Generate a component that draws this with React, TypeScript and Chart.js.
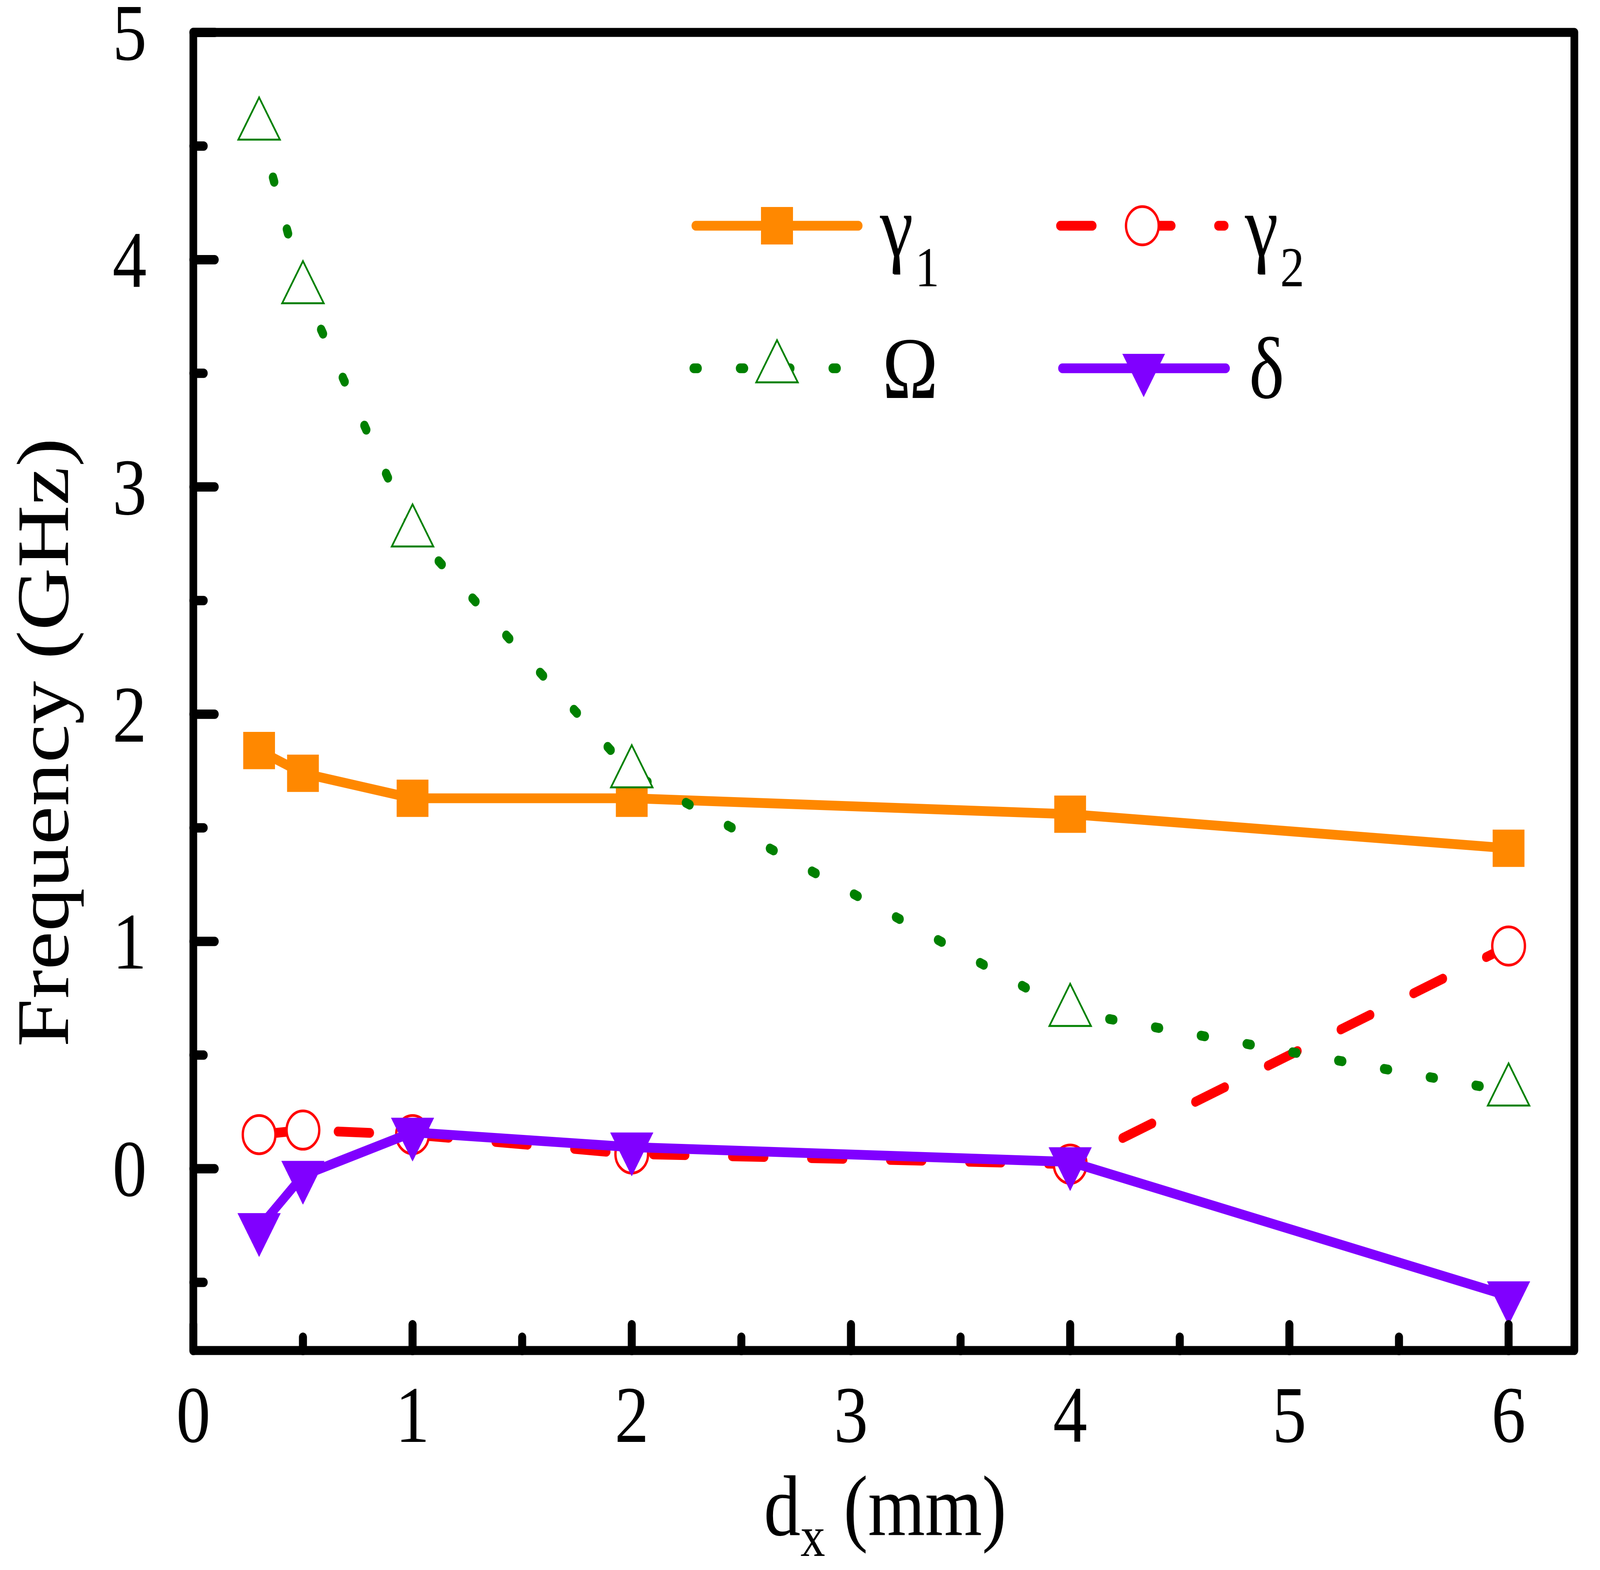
import React, { useEffect, useRef } from "react";
import { Chart, registerables } from "chart.js";

Chart.register(...registerables);

// values
const dx = [0.3, 0.5, 1, 2, 4, 6];
const gamma1 = [1.84, 1.74, 1.63, 1.63, 1.56, 1.41];
const gamma2 = [0.15, 0.17, 0.15, 0.065, 0.02, 0.98];
const omega = [4.59, 3.87, 2.8, 1.74, 0.69, 0.34];
const delta = [-0.26, -0.03, 0.16, 0.095, 0.03, -0.56];

const xMajorTicks = [0, 1, 2, 3, 4, 5, 6];
const xMinorTicks = [0.5, 1.5, 2.5, 3.5, 4.5, 5.5];
const yMajorTicks = [0, 1, 2, 3, 4, 5];
const yMinorTicks = [-0.5, 0.5, 1.5, 2.5, 3.5, 4.5];

// drawing is laid out on a 4800x4020 surface, then fitted to the viewport
const W = 4800;
const H = 4020;
const ORANGE = "#FF8800";
const RED = "#FF0000";
const GREEN = "#008000";
const PURPLE = "#8000FF";
const SERIF = "'Liberation Serif', 'Times New Roman', serif";

const pts = (ys: number[]) => dx.map((x, i) => ({ x, y: ys[i] }));

function triangle(ctx: CanvasRenderingContext2D, cx: number, cy: number, r: number, down: boolean) {
  const s = down ? -1 : 1;
  const h = Math.sin(Math.PI / 3) * r;
  ctx.beginPath();
  ctx.moveTo(cx, cy - s * r);
  ctx.lineTo(cx + h, cy + s * r * 0.5);
  ctx.lineTo(cx - h, cy + s * r * 0.5);
  ctx.closePath();
}

// ticks point inward, frame drawn over the data
const framePlugin = {
  id: "frame",
  afterDatasetsDraw(chart: any) {
    const { ctx, chartArea: a, scales } = chart;
    const xs = scales.x;
    const ys = scales.y;
    ctx.save();
    ctx.strokeStyle = "#000";
    ctx.lineCap = "round";
    ctx.lineWidth = 24;
    const seg = (x1: number, y1: number, x2: number, y2: number) => {
      ctx.beginPath();
      ctx.moveTo(x1, y1);
      ctx.lineTo(x2, y2);
      ctx.stroke();
    };
    yMajorTicks.forEach((v) => {
      const p = ys.getPixelForValue(v);
      seg(a.left, p, a.left + 64, p);
    });
    yMinorTicks.forEach((v) => {
      const p = ys.getPixelForValue(v);
      seg(a.left, p, a.left + 31, p);
    });
    xMajorTicks.forEach((v) => {
      const p = xs.getPixelForValue(v);
      seg(p, a.bottom, p, a.bottom - 66);
    });
    xMinorTicks.forEach((v) => {
      const p = xs.getPixelForValue(v);
      seg(p, a.bottom, p, a.bottom - 34);
    });
    ctx.lineWidth = 23;
    ctx.lineJoin = "round";
    ctx.strokeRect(a.left, a.top, a.right - a.left, a.bottom - a.top);
    ctx.restore();
  },
  afterDraw(chart: any) {
    const { ctx, chartArea: a } = chart;
    ctx.save();
    ctx.fillStyle = "#000";

    // x title: d_x (mm)
    const big = `220px ${SERIF}`;
    const sub = `148px ${SERIF}`;
    ctx.font = big;
    const wd = ctx.measureText("d").width;
    const wr = ctx.measureText(" (mm)").width;
    ctx.font = sub;
    const wx = ctx.measureText("x").width;
    const x0 = (a.left + a.right) / 2 - (wd + wx + wr) / 2 + 4;
    const base = 3931;
    ctx.textBaseline = "alphabetic";
    ctx.textAlign = "left";
    ctx.font = big;
    ctx.fillText("d", x0, base);
    ctx.font = sub;
    ctx.fillText("x", x0 + wd, base + 53);
    ctx.font = big;
    ctx.fillText(" (mm)", x0 + wd + wx, base);

    // y title
    ctx.save();
    ctx.translate(204, 1901);
    ctx.rotate(-Math.PI / 2);
    ctx.textAlign = "center";
    ctx.font = `222px ${SERIF}`;
    ctx.fillText("Frequency (GHz)", 0, 0);
    ctx.restore();

    // legend
    const row1 = 578;
    const row2 = 943;
    const line = (x1: number, x2: number, y: number, color: string, dash: number[]) => {
      ctx.save();
      ctx.strokeStyle = color;
      ctx.lineWidth = 25;
      ctx.lineCap = "round";
      ctx.setLineDash(dash);
      ctx.beginPath();
      ctx.moveTo(x1, y);
      ctx.lineTo(x2, y);
      ctx.stroke();
      ctx.restore();
    };
    line(2087, 2575, row1, ORANGE, []);
    ctx.fillStyle = ORANGE;
    ctx.fillRect(2331 - 48, row1 - 48, 96, 96);

    line(3181, 3673, row1, RED, [96, 141]);
    ctx.beginPath();
    ctx.arc(3427, row1, 49, 0, Math.PI * 2);
    ctx.fillStyle = "#fff";
    ctx.fill();
    ctx.lineWidth = 7;
    ctx.strokeStyle = RED;
    ctx.stroke();

    line(2081, 2520, row2, GREEN, [12, 127]);
    triangle(ctx, 2331, row2, 72, false);
    ctx.fillStyle = "#fff";
    ctx.fill();
    ctx.lineWidth = 5;
    ctx.strokeStyle = GREEN;
    ctx.stroke();

    line(3187, 3677, row2, PURPLE, []);
    triangle(ctx, 3431, row2, 74, true);
    ctx.fillStyle = PURPLE;
    ctx.fill();

    ctx.fillStyle = "#000";
    ctx.textAlign = "left";
    const lab = `225px ${SERIF}`;
    const labSub = `145px ${SERIF}`;
    const withSub = (x: number, y: number, main: string, s: string) => {
      ctx.font = lab;
      ctx.fillText(main, x, y);
      const w = ctx.measureText(main).width;
      ctx.font = labSub;
      ctx.fillText(s, x + w + 6, y + 77);
    };
    withSub(2640, row1 + 78, "γ", "1");
    withSub(3735, row1 + 78, "γ", "2");
    ctx.font = lab;
    ctx.fillText("Ω", 2647, row2 + 76);
    ctx.fillText("δ", 3747, row2 + 76);
    ctx.restore();
  },
};

export default function App() {
  const canvasRef = useRef<HTMLCanvasElement>(null);

  useEffect(() => {
    const canvas = canvasRef.current;
    if (!canvas) return;
    document.body.style.margin = "0";
    document.body.style.overflow = "hidden";
    // the window may be narrower than 4800: fill it with the whole figure
    const cssW = window.innerWidth || W;
    const cssH = window.innerHeight || H;
    canvas.style.width = `${cssW}px`;
    canvas.style.height = `${cssH}px`;

    const tickFont = { family: SERIF, size: 205, lineHeight: 1.2 };
    const chart = new Chart(canvas, {
      type: "line",
      data: {
        datasets: [
          {
            label: "γ1",
            data: pts(gamma1),
            borderColor: ORANGE,
            backgroundColor: ORANGE,
            borderWidth: 25,
            pointStyle: "rect",
            pointRadius: 66,
            pointBorderWidth: 2,
            pointBackgroundColor: ORANGE,
            pointBorderColor: ORANGE,
            order: 3,
          },
          {
            label: "γ2",
            data: pts(gamma2),
            borderColor: RED,
            borderWidth: 25,
            borderDash: [96, 141],
            borderCapStyle: "round",
            pointStyle: "circle",
            pointRadius: 49,
            pointBorderWidth: 7,
            pointBackgroundColor: "#fff",
            pointBorderColor: RED,
            order: 2,
          },
          {
            label: "Ω",
            data: pts(omega),
            borderColor: GREEN,
            borderWidth: 25,
            borderDash: [12, 127],
            borderCapStyle: "round",
            pointStyle: "triangle",
            pointRadius: 72,
            pointBorderWidth: 5,
            pointBackgroundColor: "#fff",
            pointBorderColor: GREEN,
            order: 1,
          },
          {
            label: "δ",
            data: pts(delta),
            borderColor: PURPLE,
            borderWidth: 25,
            pointStyle: "triangle",
            rotation: 180,
            pointRadius: 74,
            pointBorderWidth: 1,
            pointBackgroundColor: PURPLE,
            pointBorderColor: PURPLE,
            order: 0,
          },
        ],
      },
      options: {
        responsive: false,
        animation: false,
        devicePixelRatio: 1,
        layout: { padding: { top: 83, right: 33, left: 0, bottom: 0 } },
        plugins: { legend: { display: false }, tooltip: { enabled: false } },
        elements: { line: { tension: 0 } },
        scales: {
          x: {
            type: "linear",
            min: 0,
            max: 6.3,
            grid: { display: false, drawTicks: false },
            border: { display: false },
            ticks: { font: tickFont, color: "#000", padding: 57, includeBounds: false },
            afterBuildTicks: (s: any) => {
              s.ticks = xMajorTicks.map((value) => ({ value }));
            },
            afterFit: (s: any) => {
              s.height = 562;
              s.paddingLeft = 0;
              s.paddingRight = 0;
            },
          },
          y: {
            type: "linear",
            min: -0.8,
            max: 5,
            grid: { display: false, drawTicks: false },
            border: { display: false },
            ticks: { font: tickFont, color: "#000", padding: 140, labelOffset: 16, includeBounds: false },
            afterBuildTicks: (s: any) => {
              s.ticks = yMajorTicks.map((value) => ({ value }));
            },
            afterFit: (s: any) => {
              s.width = 580;
              s.paddingTop = 0;
              s.paddingBottom = 0;
            },
          },
        },
      },
      plugins: [framePlugin],
    });
    return () => {
      chart.destroy();
    };
  }, []);

  return (
    <div style={{ position: "absolute", left: 0, top: 0, background: "#fff" }}>
      <canvas ref={canvasRef} width={W} height={H} style={{ display: "block" }} />
    </div>
  );
}
